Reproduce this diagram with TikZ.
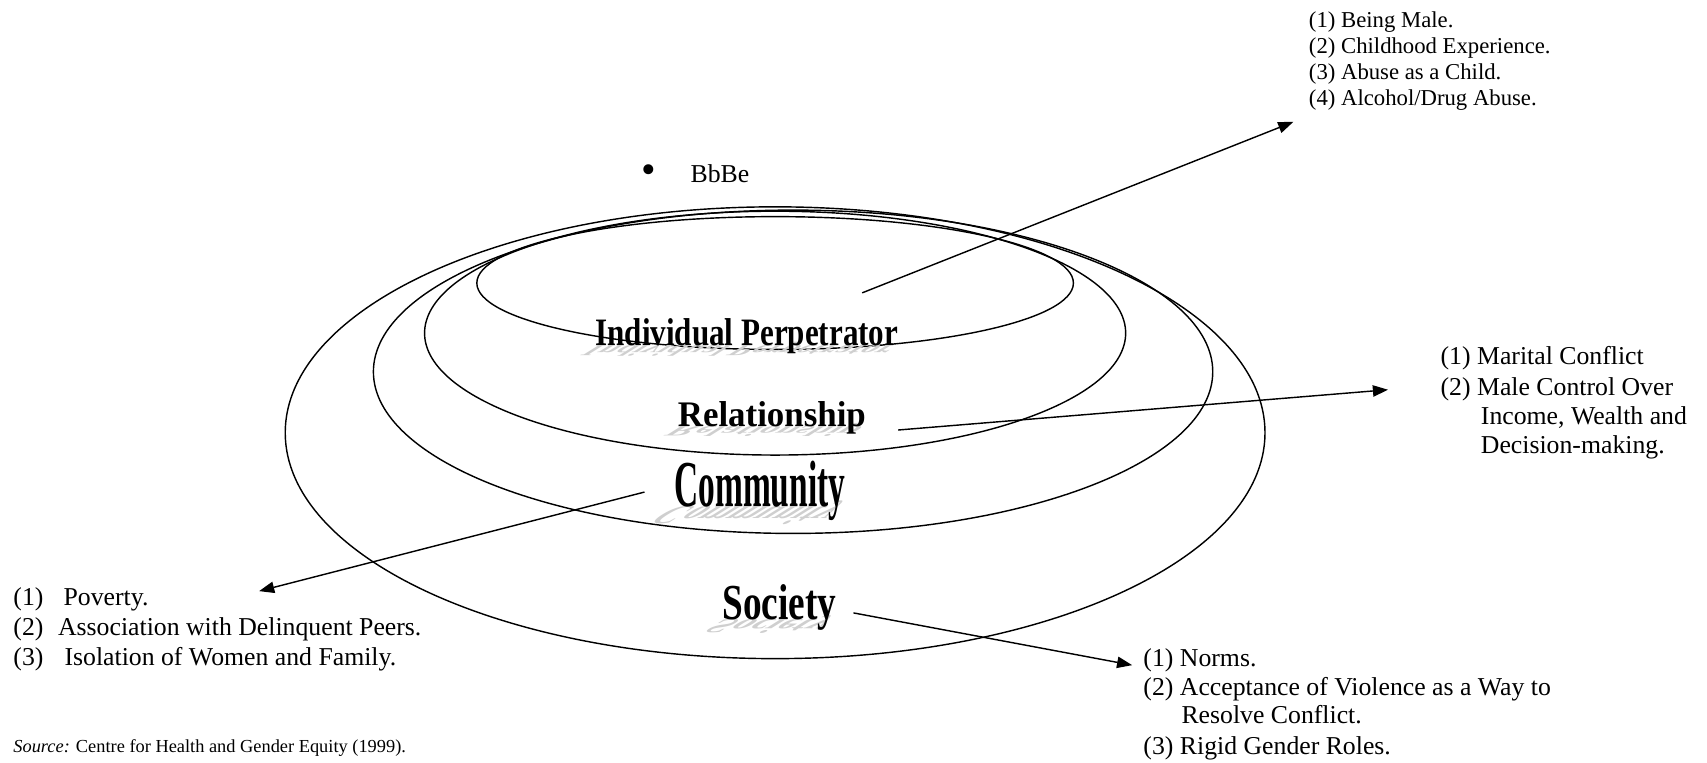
\documentclass[tikz,border=0pt]{standalone}
\usepackage{fontspec}
\setmainfont{Liberation Serif}
\usetikzlibrary{arrows.meta}
\begin{document}
\begin{tikzpicture}[x=0.575pt,y=-0.575pt,
  ring/.style={line width=0.75pt},
  conn/.style={line width=0.75pt,-{Triangle[length=8pt,width=6pt]}},
  txt/.style={anchor=base west,inner sep=0pt,font=\fontsize{13.6}{15.7}\selectfont},
  small/.style={anchor=base west,inner sep=0pt,font=\fontsize{12}{13.8}\selectfont},
  lab/.style={anchor=base,inner sep=0pt,transform shape},
  shadowlab/.style={lab,text=gray!38,xslant=1.6,yscale=-0.4},
]
\useasboundingbox (0,0) rectangle (1568,700);

% rings
\draw[ring] (712,397.5) ellipse [x radius=450, y radius=207.5];
\draw[ring] (728.5,341.5) ellipse [x radius=385.5, y radius=148.5];
\draw[ring] (712,306) ellipse [x radius=322, y radius=112];
\draw[ring] (712,260) ellipse [x radius=274, y radius=61];

% ring labels with shadows
\begin{scope}[shift={(686,317)}]
  \node[shadowlab,xscale=0.8,font=\bfseries\fontsize{20.5}{24}\selectfont] (indS) at (0,0) {Individual Perpetrator};
  \node[lab,xscale=0.8,font=\bfseries\fontsize{20.5}{24}\selectfont] (ind) at (0,0) {Individual Perpetrator};
\end{scope}
\begin{scope}[shift={(709,392)}]
  \node[shadowlab,xscale=0.97,font=\bfseries\fontsize{19}{22}\selectfont] (relS) at (0,0) {Relationship};
  \node[lab,xscale=0.97,font=\bfseries\fontsize{19}{22}\selectfont] (rel) at (0,0) {Relationship};
\end{scope}
\begin{scope}[shift={(698,465)}]
  \node[shadowlab,xscale=0.51,font=\bfseries\fontsize{34.6}{40}\selectfont] (comS) at (0,0) {Community};
  \node[lab,xscale=0.51,font=\bfseries\fontsize{34.6}{40}\selectfont] (com) at (0,0) {Community};
\end{scope}
\begin{scope}[shift={(716,569)}]
  \node[shadowlab,xscale=0.74,font=\bfseries\fontsize{26.6}{30}\selectfont] (socS) at (0,0) {Society};
  \node[lab,xscale=0.74,font=\bfseries\fontsize{26.6}{30}\selectfont] (soc) at (0,0) {Society};
\end{scope}

% bullet
\node[inner sep=0pt,font=\fontsize{22}{22}\selectfont] (bul) at (596,160) {\textbullet};
\node[txt] (bbbe) at (634,168) {BbBe};

% individual factors
\node[small] (i1) at (1202,25) {(1) Being Male.};
\node[small] (i2) at (1202,49) {(2) Childhood Experience.};
\node[small] (i3) at (1202,73) {(3) Abuse as a Child.};
\node[small] (i4) at (1202,97) {(4) Alcohol/Drug Abuse.};

% relationship factors
\node[txt] (r1) at (1323,335) {(1) Marital Conflict};
\node[txt] (r2) at (1323,363) {(2) Male Control Over};
\node[txt] (r3) at (1360,390) {Income, Wealth and};
\node[txt] (r4) at (1360,417) {Decision-making.};

% community factors
\node[txt] (c1) at (12,556) {\makebox[26.5pt][l]{(1)}Poverty.};
\node[txt] (c2) at (12,584) {\makebox[23.6pt][l]{(2)}Association with Delinquent Peers.};
\node[txt] (c3) at (12,611) {\makebox[27pt][l]{(3)}Isolation of Women and Family.};

% society factors
\node[txt] (s1) at (1050,612) {(1) Norms.};
\node[txt] (s2) at (1050,639) {(2) Acceptance of Violence as a Way to};
\node[txt] (s3) at (1085,665) {Resolve Conflict.};
\node[txt] (s4) at (1050,693) {(3) Rigid Gender Roles.};

% source
\node[anchor=base west,inner sep=0pt,font=\fontsize{9.7}{11.5}\selectfont] (src) at (12,691) {\textit{Source:} Centre for Health and Gender Equity (1999).};

% connectors
\coordinate (iS) at (792,269);
\coordinate (iE) at (1188,112);
\coordinate (rS) at (825,395);
\coordinate (rE) at (1275,358);
\coordinate (cS) at (592,452);
\coordinate (cE) at (238,543);
\coordinate (sS) at (784,563);
\coordinate (sE) at (1040,611);
\draw[conn] (iS) -- (iE);
\draw[conn] (rS) -- (rE);
\draw[conn] (cS) -- (cE);
\draw[conn] (sS) -- (sE);
\end{tikzpicture}
\end{document}
